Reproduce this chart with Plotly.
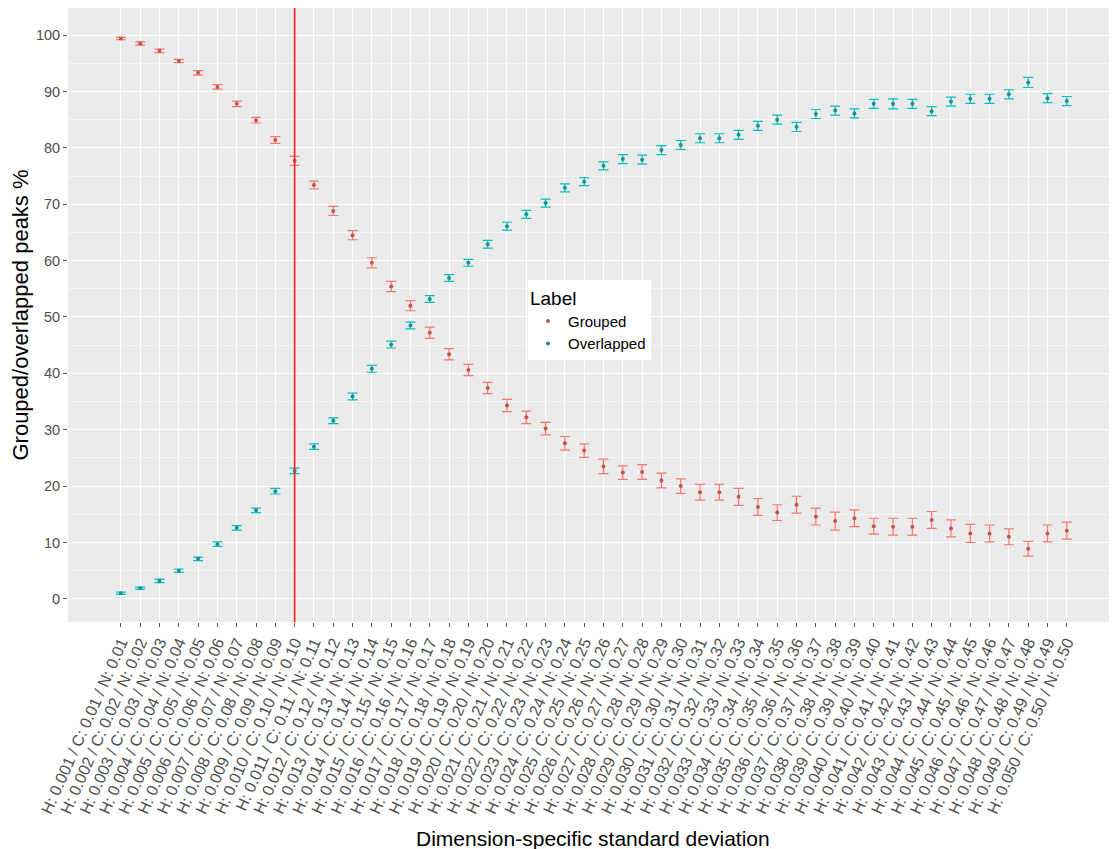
import plotly.graph_objects as go

n_idx = list(range(1, 51))
labels = [f"H: {i/1000:.3f} / C: {i/100:.2f} / N: {i/100:.2f}" for i in n_idx]

grouped = [99.4, 98.5, 97.2, 95.4, 93.3, 90.8, 87.8, 84.9, 81.4, 77.7,
           73.4, 68.8, 64.5, 59.6, 55.4, 52.0, 47.2, 43.4, 40.6, 37.4,
           34.3, 32.2, 30.2, 27.6, 26.3, 23.5, 22.4, 22.5, 21.0, 20.0,
           18.9, 18.9, 18.1, 16.3, 15.3, 16.7, 14.6, 13.8, 14.3, 12.9,
           12.8, 12.8, 14.0, 12.5, 11.6, 11.6, 11.0, 8.9, 11.6, 12.1]
grouped_err = [0.2, 0.3, 0.3, 0.3, 0.4, 0.4, 0.5, 0.5, 0.6, 0.8,
               0.7, 0.8, 0.8, 0.9, 0.9, 0.9, 1.0, 1.0, 1.0, 1.0,
               1.1, 1.1, 1.1, 1.2, 1.2, 1.3, 1.2, 1.3, 1.3, 1.3,
               1.4, 1.4, 1.5, 1.5, 1.4, 1.5, 1.5, 1.6, 1.5, 1.4,
               1.5, 1.5, 1.5, 1.5, 1.6, 1.5, 1.4, 1.3, 1.5, 1.5]

overlapped = [1.0, 1.9, 3.2, 5.0, 7.1, 9.7, 12.6, 15.7, 19.1, 22.7,
              27.0, 31.6, 35.9, 40.8, 45.1, 48.5, 53.2, 56.9, 59.6, 62.9,
              66.1, 68.2, 70.2, 72.9, 74.0, 76.8, 78.0, 77.9, 79.6, 80.5,
              81.7, 81.7, 82.3, 83.9, 85.0, 83.7, 86.0, 86.6, 86.1, 87.8,
              87.8, 87.8, 86.5, 88.2, 88.7, 88.7, 89.5, 91.6, 88.8, 88.3]
overlapped_err = [0.2, 0.2, 0.3, 0.3, 0.3, 0.4, 0.4, 0.4, 0.5, 0.5,
                  0.5, 0.5, 0.6, 0.6, 0.6, 0.6, 0.6, 0.6, 0.6, 0.7,
                  0.7, 0.7, 0.7, 0.7, 0.7, 0.7, 0.8, 0.8, 0.8, 0.8,
                  0.8, 0.8, 0.8, 0.8, 0.8, 0.8, 0.8, 0.8, 0.8, 0.8,
                  0.9, 0.8, 0.8, 0.8, 0.8, 0.8, 0.8, 0.9, 0.8, 0.8]

y_ticks = list(range(0, 101, 10))
threshold_index = 10

RED = "#F8766D"
CYAN = "#00BFC4"
FONT = "Liberation Sans, Arial, sans-serif"

fig = go.Figure()
for name, vals, errs, col, dark in [("Grouped", grouped, grouped_err, RED, "#c0574f"),
                                   ("Overlapped", overlapped, overlapped_err, CYAN, "#1f8f93")]:
    fig.add_trace(go.Scatter(
        x=n_idx, y=vals, mode="markers", name=name,
        marker=dict(color=dark, size=4),
        error_y=dict(type="data", array=errs, visible=True, color=col,
                     thickness=1.2, width=5),
    ))

fig.add_vline(x=threshold_index, line=dict(color="#FF2020", width=1.6))

# page body adds an 8px margin, so the figure is sized to fill the rest of the window
fig.update_layout(
    width=1109, height=841,
    margin=dict(l=60, r=0, t=0, b=227),
    paper_bgcolor="white", plot_bgcolor="#EBEBEB",
    font=dict(family=FONT, color="black"),
    showlegend=True,
    legend=dict(
        x=0.4385, y=0.557, xanchor="left", yanchor="top",
        bgcolor="white", borderwidth=0,
        title=dict(text="Label", font=dict(size=19, color="black")),
        font=dict(size=15, color="black"),
        itemwidth=30, tracegroupgap=0,
    ),
    annotations=[dict(
        text="Dimension-specific standard deviation",
        xref="paper", yref="paper", x=0.5, y=-0.352,
        xanchor="center", yanchor="middle", showarrow=False,
        font=dict(size=21, color="black", family=FONT),
    )],
)

fig.update_xaxes(
    range=[-1.74, 52.6], automargin=False,
    tickmode="array", tickvals=n_idx, ticktext=labels,
    tickangle=-66, tickfont=dict(size=16, color="#4D4D4D"),
    showgrid=True, gridcolor="white", gridwidth=1,
    ticks="outside", ticklen=4, tickcolor="#555555",
    zeroline=False, showline=False,
)
fig.update_yaxes(
    range=[-4.1, 104.8], automargin=False,
    tickmode="array", tickvals=y_ticks,
    tickfont=dict(size=14.5, color="#4D4D4D"),
    showgrid=True, gridcolor="white", gridwidth=1.2,
    minor=dict(dtick=5, showgrid=True, gridcolor="#F6F6F6", gridwidth=0.6),
    ticks="outside", ticklen=4, tickcolor="#555555",
    zeroline=False, showline=False,
    title=dict(text="Grouped/overlapped peaks %", font=dict(size=22, color="black"), standoff=6),
)

fig.write_html("out.html")
